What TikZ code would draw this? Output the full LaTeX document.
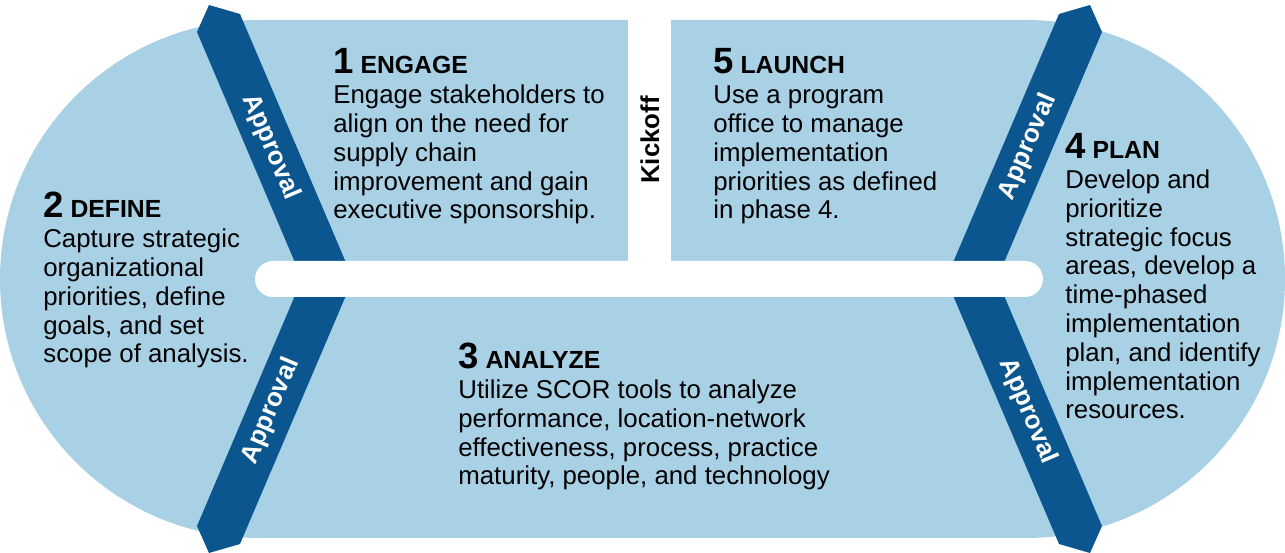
\documentclass[tikz,border=0pt]{standalone}
\usepackage{fontspec}
\setmainfont{Liberation Sans}
\usepackage{xcolor}
\definecolor{SCORSky}{HTML}{A9D1E5}
\definecolor{SCORNavy}{HTML}{0B568F}
\newcommand{\phasehead}[2]{{\fontsize{20.8pt}{20pt}\selectfont\bfseries #1}{\fontsize{14.1pt}{16pt}\selectfont\bfseries\ #2}}

\begin{document}
\begin{tikzpicture}[x=0.02cm,y=-0.02cm,
  phase/.style={anchor=base west,inner sep=0pt,align=left,font=\fontsize{14.7pt}{16.4pt}\selectfont},
  approval/.style={text=white,inner sep=0pt,font=\fontsize{14.7pt}{16pt}\selectfont\bfseries}]
\useasboundingbox (0,0) rectangle (1285,553);
% track
\fill[SCORSky,rounded corners=5.18cm] (0,20) rectangle (1285,538);
% approval chevrons
\fill[SCORNavy] (197,32) -- (209,5) -- (240,14) -- (353,279) -- (240,544) -- (209,553) -- (197,526) -- (302,279) -- cycle;
\fill[SCORNavy] (1102,32) -- (1090,5) -- (1059,14) -- (946,279) -- (1059,544) -- (1090,553) -- (1102,526) -- (997,279) -- cycle;
% white gaps
\fill[white,rounded corners=0.36cm] (255,261) rectangle (1043,297);
\fill[white] (628,0) rectangle (671,265);
% phases (placed at the baseline of their last line)
\node[phase] (engage) at (333,219) {\phasehead{1}{ENGAGE}\\[0.6pt]Engage stakeholders to\\align on the need for\\supply chain\\improvement and gain\\executive sponsorship.};
\node[phase] (define) at (43,363) {\phasehead{2}{DEFINE}\\[0.6pt]Capture strategic\\organizational\\priorities, define\\goals, and set\\scope of analysis.};
\node[phase] (analyze) at (458,485) {\phasehead{3}{ANALYZE}\\[0.6pt]Utilize SCOR tools to analyze\\performance, location-network\\effectiveness, process, practice\\maturity, people, and technology};
\node[phase] (plan) at (1065,419) {\phasehead{4}{PLAN}\\[0.6pt]Develop and\\prioritize\\strategic focus\\areas, develop a\\time-phased\\implementation\\plan, and identify\\implementation\\resources.};
\node[phase] (launch) at (713,219) {\phasehead{5}{LAUNCH}\\[0.6pt]Use a program\\office to manage\\implementation\\priorities as defined\\in phase 4.};
\node[rotate=90,inner sep=0pt,font=\fontsize{14.7pt}{16pt}\selectfont\bfseries] (kickoff) at (650,140) {Kickoff};
% approvals
\node[approval,rotate=-67] (appr1) at (271,147) {Approval};
\node[approval,rotate=67] (appr2) at (271,411) {Approval};
\node[approval,rotate=67] (appr3) at (1028,147) {Approval};
\node[approval,rotate=-67] (appr4) at (1028,411) {Approval};
\end{tikzpicture}
\end{document}
